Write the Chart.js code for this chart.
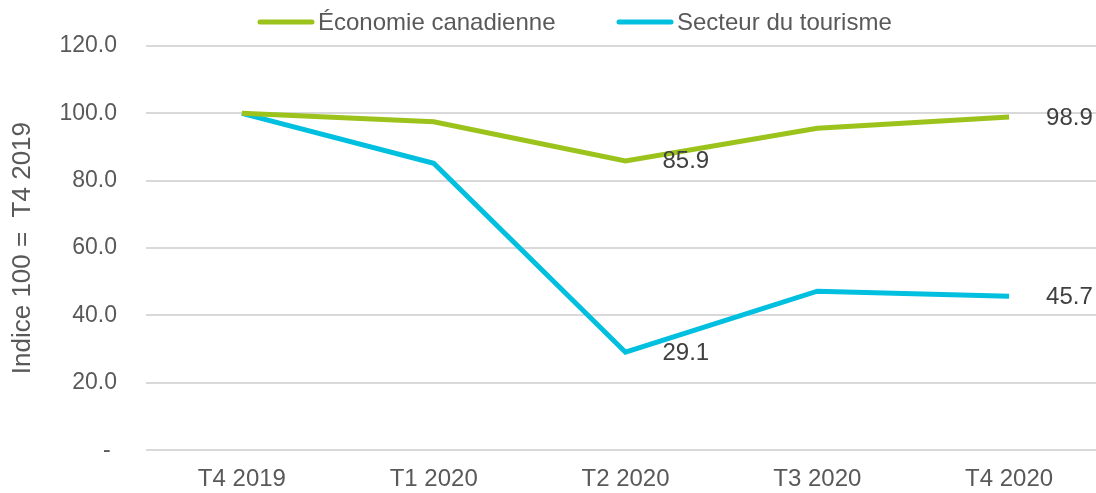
<!DOCTYPE html>
<html lang="fr">
<head>
<meta charset="utf-8">
<title>Économie canadienne vs Secteur du tourisme</title>
<script src="https://cdn.jsdelivr.net/npm/chart.js@4/dist/chart.umd.min.js"></script>
<style>
  html, body { margin: 0; padding: 0; background: #fff; overflow: hidden; width: 1096px; height: 493px; }
  canvas { display: block; }
</style>
</head>
<body>
<canvas id="chartCanvas" width="1115" height="493"></canvas>
<script>
const quarters = ["T4 2019", "T1 2020", "T2 2020", "T3 2020", "T4 2020"];
const economie = [100.0, 97.5, 85.9, 95.6, 98.9];
const tourisme = [100.0, 85.2, 29.1, 47.2, 45.7];
const seriesNames = ["Économie canadienne", "Secteur du tourisme"];
const labeledIndices = [2, 4];
const yTicks = [0, 20, 40, 60, 80, 100, 120];

const FONT = "'Liberation Sans', Arial, sans-serif";
const GREEN = "#9BC31C";
const BLUE = "#00BFDF";

// légende dessinée à la main (espacement comme dans Excel)
const legendPlugin = {
  id: "excelLegend",
  afterDraw(chart) {
    const ctx = chart.ctx;
    const items = [
      { x: 258, ds: chart.data.datasets[0] },
      { x: 617, ds: chart.data.datasets[1] }
    ];
    ctx.save();
    ctx.font = "24px " + FONT;
    ctx.textBaseline = "middle";
    ctx.textAlign = "left";
    items.forEach(it => {
      ctx.strokeStyle = it.ds.borderColor;
      ctx.lineWidth = 5;
      ctx.lineCap = "round";
      ctx.beginPath();
      ctx.moveTo(it.x + 2, 22);
      ctx.lineTo(it.x + 54, 22);
      ctx.stroke();
      ctx.fillStyle = "#595959";
      ctx.fillText(it.ds.label, it.x + 60, 23);
    });
    ctx.restore();
  }
};

// étiquettes de valeurs à droite des points
const valueLabels = {
  id: "valueLabels",
  afterDatasetsDraw(chart) {
    const ctx = chart.ctx;
    ctx.save();
    ctx.font = "24px " + FONT;
    ctx.fillStyle = "#404040";
    ctx.textAlign = "left";
    ctx.textBaseline = "middle";
    chart.data.datasets.forEach((ds, di) => {
      const meta = chart.getDatasetMeta(di);
      labeledIndices.forEach(i => {
        const pt = meta.data[i];
        ctx.fillText(ds.data[i].toFixed(1), pt.x + 37, pt.y + 1);
      });
    });
    ctx.restore();
  }
};

const ctx = document.getElementById("chartCanvas").getContext("2d");
new Chart(ctx, {
  type: "line",
  data: {
    labels: quarters,
    datasets: [
      {
        label: seriesNames[0],
        data: economie,
        borderColor: GREEN,
        backgroundColor: GREEN,
        borderWidth: 5,
        pointRadius: 0,
        tension: 0,
        fill: false
      },
      {
        label: seriesNames[1],
        data: tourisme,
        borderColor: BLUE,
        backgroundColor: BLUE,
        borderWidth: 5,
        pointRadius: 0,
        tension: 0,
        fill: false
      }
    ]
  },
  options: {
    responsive: false,
    animation: false,
    layout: { padding: { top: 46, right: 10, bottom: 0, left: 0 } },
    plugins: {
      legend: { display: false },
      tooltip: { enabled: false }
    },
    scales: {
      x: {
        offset: true,
        grid: { display: false, drawTicks: false },
        border: { display: false },
        afterFit: s => { s.height = 42; },
        ticks: {
          color: "#595959",
          padding: 17,
          font: { family: FONT, size: 24, lineHeight: 1 }
        }
      },
      y: {
        min: 0,
        max: 120,
        afterBuildTicks: scale => {
          scale.ticks = yTicks.map(v => ({ value: v }));
        },
        afterFit: s => { s.width = 146; },
        grid: { color: "#d9d9d9", lineWidth: 2, drawTicks: false },
        border: { display: false },
        ticks: {
          color: "#595959",
          padding: 29,
          font: { family: FONT, size: 23 },
          callback: v => v === 0 ? "- " : v.toFixed(1)
        },
        title: {
          display: true,
          text: "Indice 100 =  T4 2019",
          color: "#595959",
          font: { family: FONT, size: 26 },
          padding: { top: 7, bottom: 22 }
        }
      }
    }
  },
  plugins: [legendPlugin, valueLabels]
});
</script>
</body>
</html>
